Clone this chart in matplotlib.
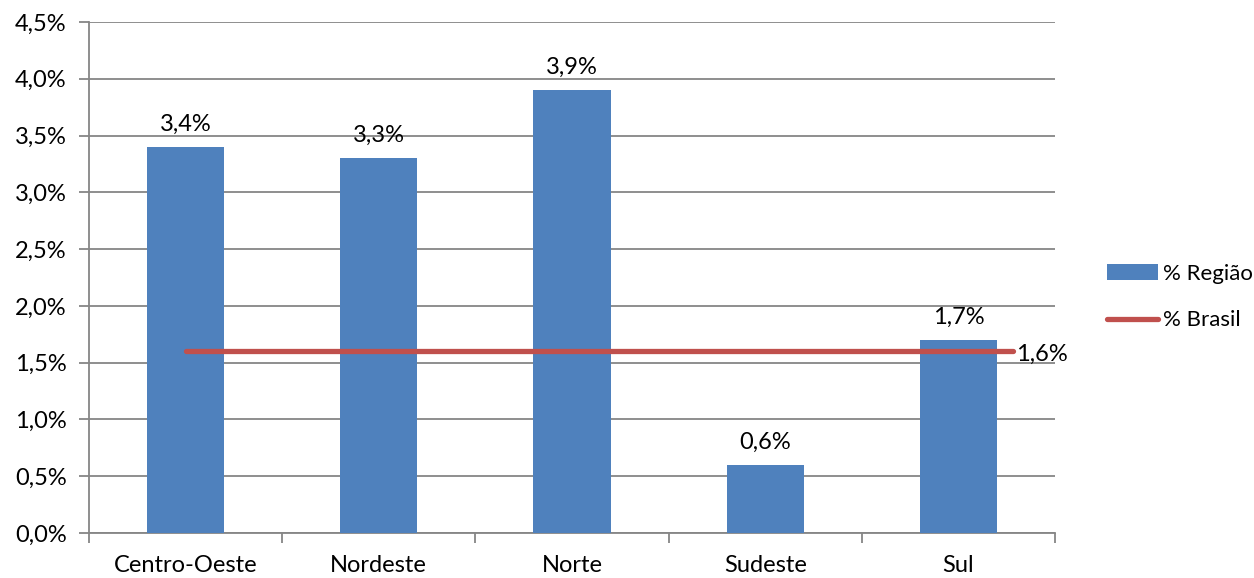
import numpy as np
import matplotlib
matplotlib.use("Agg")
import matplotlib.pyplot as plt
from matplotlib.ticker import FuncFormatter

plt.rcParams['font.family'] = ['Lato', 'DejaVu Sans']

# data
regioes = ['Centro-Oeste', 'Nordeste', 'Norte', 'Sudeste', 'Sul']
pct_regiao = [3.4, 3.3, 3.9, 0.6, 1.7]
pct_brasil = [1.6, 1.6, 1.6, 1.6, 1.6]

fmt = lambda v: f"{v:.1f}%".replace('.', ',')
FS = 17

fig = plt.figure(figsize=(12.54, 5.78), dpi=100)
ax = fig.add_axes([89/1254, 45/578, 966/1254, 511/578])

x = np.arange(len(regioes))
bars = ax.bar(x, pct_regiao, width=0.4, color='#4F81BD', label='% Região', zorder=3)
for xi, v in zip(x, pct_regiao):
    ax.annotate(fmt(v), (xi, v), xytext=(0, 9), textcoords='offset points',
                ha='center', va='bottom', fontsize=FS)

ax.set_xlim(-0.5, len(regioes) - 0.5)
ax.set_ylim(0, 4.5)
ax.set_yticks(np.arange(0, 4.51, 0.5))
ax.yaxis.set_major_formatter(FuncFormatter(lambda v, p: fmt(v)))
ax.grid(axis='y', color='#868686', linewidth=1.3, zorder=0)
ax.set_xticks(x)
ax.set_xticklabels(regioes)
ax.set_xticks(np.arange(-0.5, len(regioes), 1), minor=True)
ax.tick_params(axis='x', which='major', length=0, pad=16, labelsize=FS)
ax.tick_params(axis='x', which='minor', length=7, width=1.3, color='#868686')
ax.tick_params(axis='y', length=7, width=1.3, color='#868686', labelsize=FS, pad=9)
for s in ['top', 'right']:
    ax.spines[s].set_visible(False)
for s in ['left', 'bottom']:
    ax.spines[s].set_color('#868686')
    ax.spines[s].set_linewidth(1.3)

# line on a secondary category axis (as in the original spreadsheet chart)
ax2 = ax.twiny()
ax2.set_xlim(-0.469, 4.203)
ax2.set_ylim(0, 4.5)
ax2.axis('off')
line, = ax2.plot(x, pct_brasil, color='#C0504D', linewidth=3.8,
                 solid_capstyle='round', label='% Brasil', zorder=4)
ax2.annotate(fmt(pct_brasil[-1]), (x[-1], pct_brasil[-1]), xytext=(2, -2),
             textcoords='offset points', ha='left', va='center', fontsize=FS)

fig.legend([bars, line], ['% Região', '% Brasil'], loc='center left',
           bbox_to_anchor=(1087/1254, 1 - 297/578), frameon=False, fontsize=16,
           handlelength=2.3, handletextpad=0.2, labelspacing=1.2)

fig.savefig('out.png', dpi=100)
